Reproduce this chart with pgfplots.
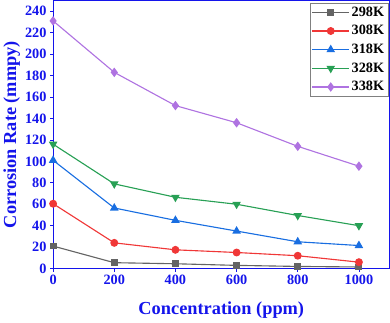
\documentclass[border=0pt]{standalone}
\usepackage{fontspec}
\setmainfont{Liberation Serif}
\usepackage{pgfplots}
\pgfplotsset{compat=1.18}
\definecolor{axblue}{RGB}{20,20,235}
\definecolor{cgray}{RGB}{100,100,100}
\definecolor{cred}{RGB}{240,55,55}
\definecolor{cblue}{RGB}{25,110,225}
\definecolor{cgreen}{RGB}{40,160,85}
\definecolor{cpurple}{RGB}{175,115,225}
\begin{document}
\begin{tikzpicture}
\begin{axis}[
    scale only axis,
    width=330pt, height=263pt,
    xmin=0, xmax=1100, ymin=0, ymax=250,
    xtick={0,200,...,1000}, ytick={0,20,...,240},
    xticklabels={0,200,400,600,800,1000},
    yticklabels={0,20,40,60,80,100,120,140,160,180,200,220,240},
    axis line style={axblue, line width=1pt},
    tick style={axblue, line width=0.8pt},
    tick align=outside, major tick length=3pt,
    xtick pos=bottom, ytick pos=left,
    ticklabel style={font=\fontsize{14}{14}\selectfont\bfseries, text=axblue},
    xlabel={Concentration (ppm)},
    ylabel={Corrosion Rate (mmpy)},
    label style={font=\fontsize{18}{18}\selectfont\bfseries, text=axblue},
    xlabel style={yshift=-10pt},
    ylabel style={yshift=-2pt},
    legend style={at={(1,1)}, anchor=north east, xshift=-1pt, yshift=-2pt,
        draw=gray, font=\fontsize{14}{14}\selectfont\bfseries,
        row sep=3.5pt, inner sep=2pt},
    legend cell align=left,
    legend image code/.code={
        \draw[mark repeat=2, mark phase=2] plot coordinates {(0pt,0pt) (18pt,0pt) (36pt,0pt)};},
    every axis plot/.append style={line width=1.1pt, mark size=3.3pt},
]
\addplot[cgray, mark=square*, mark size=2.8pt] coordinates {
    (0,21) (200,5.5) (400,4.5) (600,3) (800,2) (1000,1.5)};
\addlegendentry{298K}
\addplot[cred, mark=*] coordinates {
    (0,60.5) (200,24) (400,17.5) (600,15) (800,12) (1000,6)};
\addlegendentry{308K}
\addplot[cblue, mark=triangle*, mark size=3.8pt] coordinates {
    (0,101) (200,56.5) (400,45) (600,35) (800,25) (1000,21.5)};
\addlegendentry{318K}
\addplot[cgreen, mark=triangle*, mark size=3.8pt, mark options={rotate=180}] coordinates {
    (0,116) (200,79) (400,66.5) (600,60) (800,49.5) (1000,40)};
\addlegendentry{328K}
\addplot[cpurple, mark=diamond*, mark size=3.8pt] coordinates {
    (0,231) (200,183) (400,152) (600,136) (800,114) (1000,95.5)};
\addlegendentry{338K}
\end{axis}
\end{tikzpicture}
\end{document}
